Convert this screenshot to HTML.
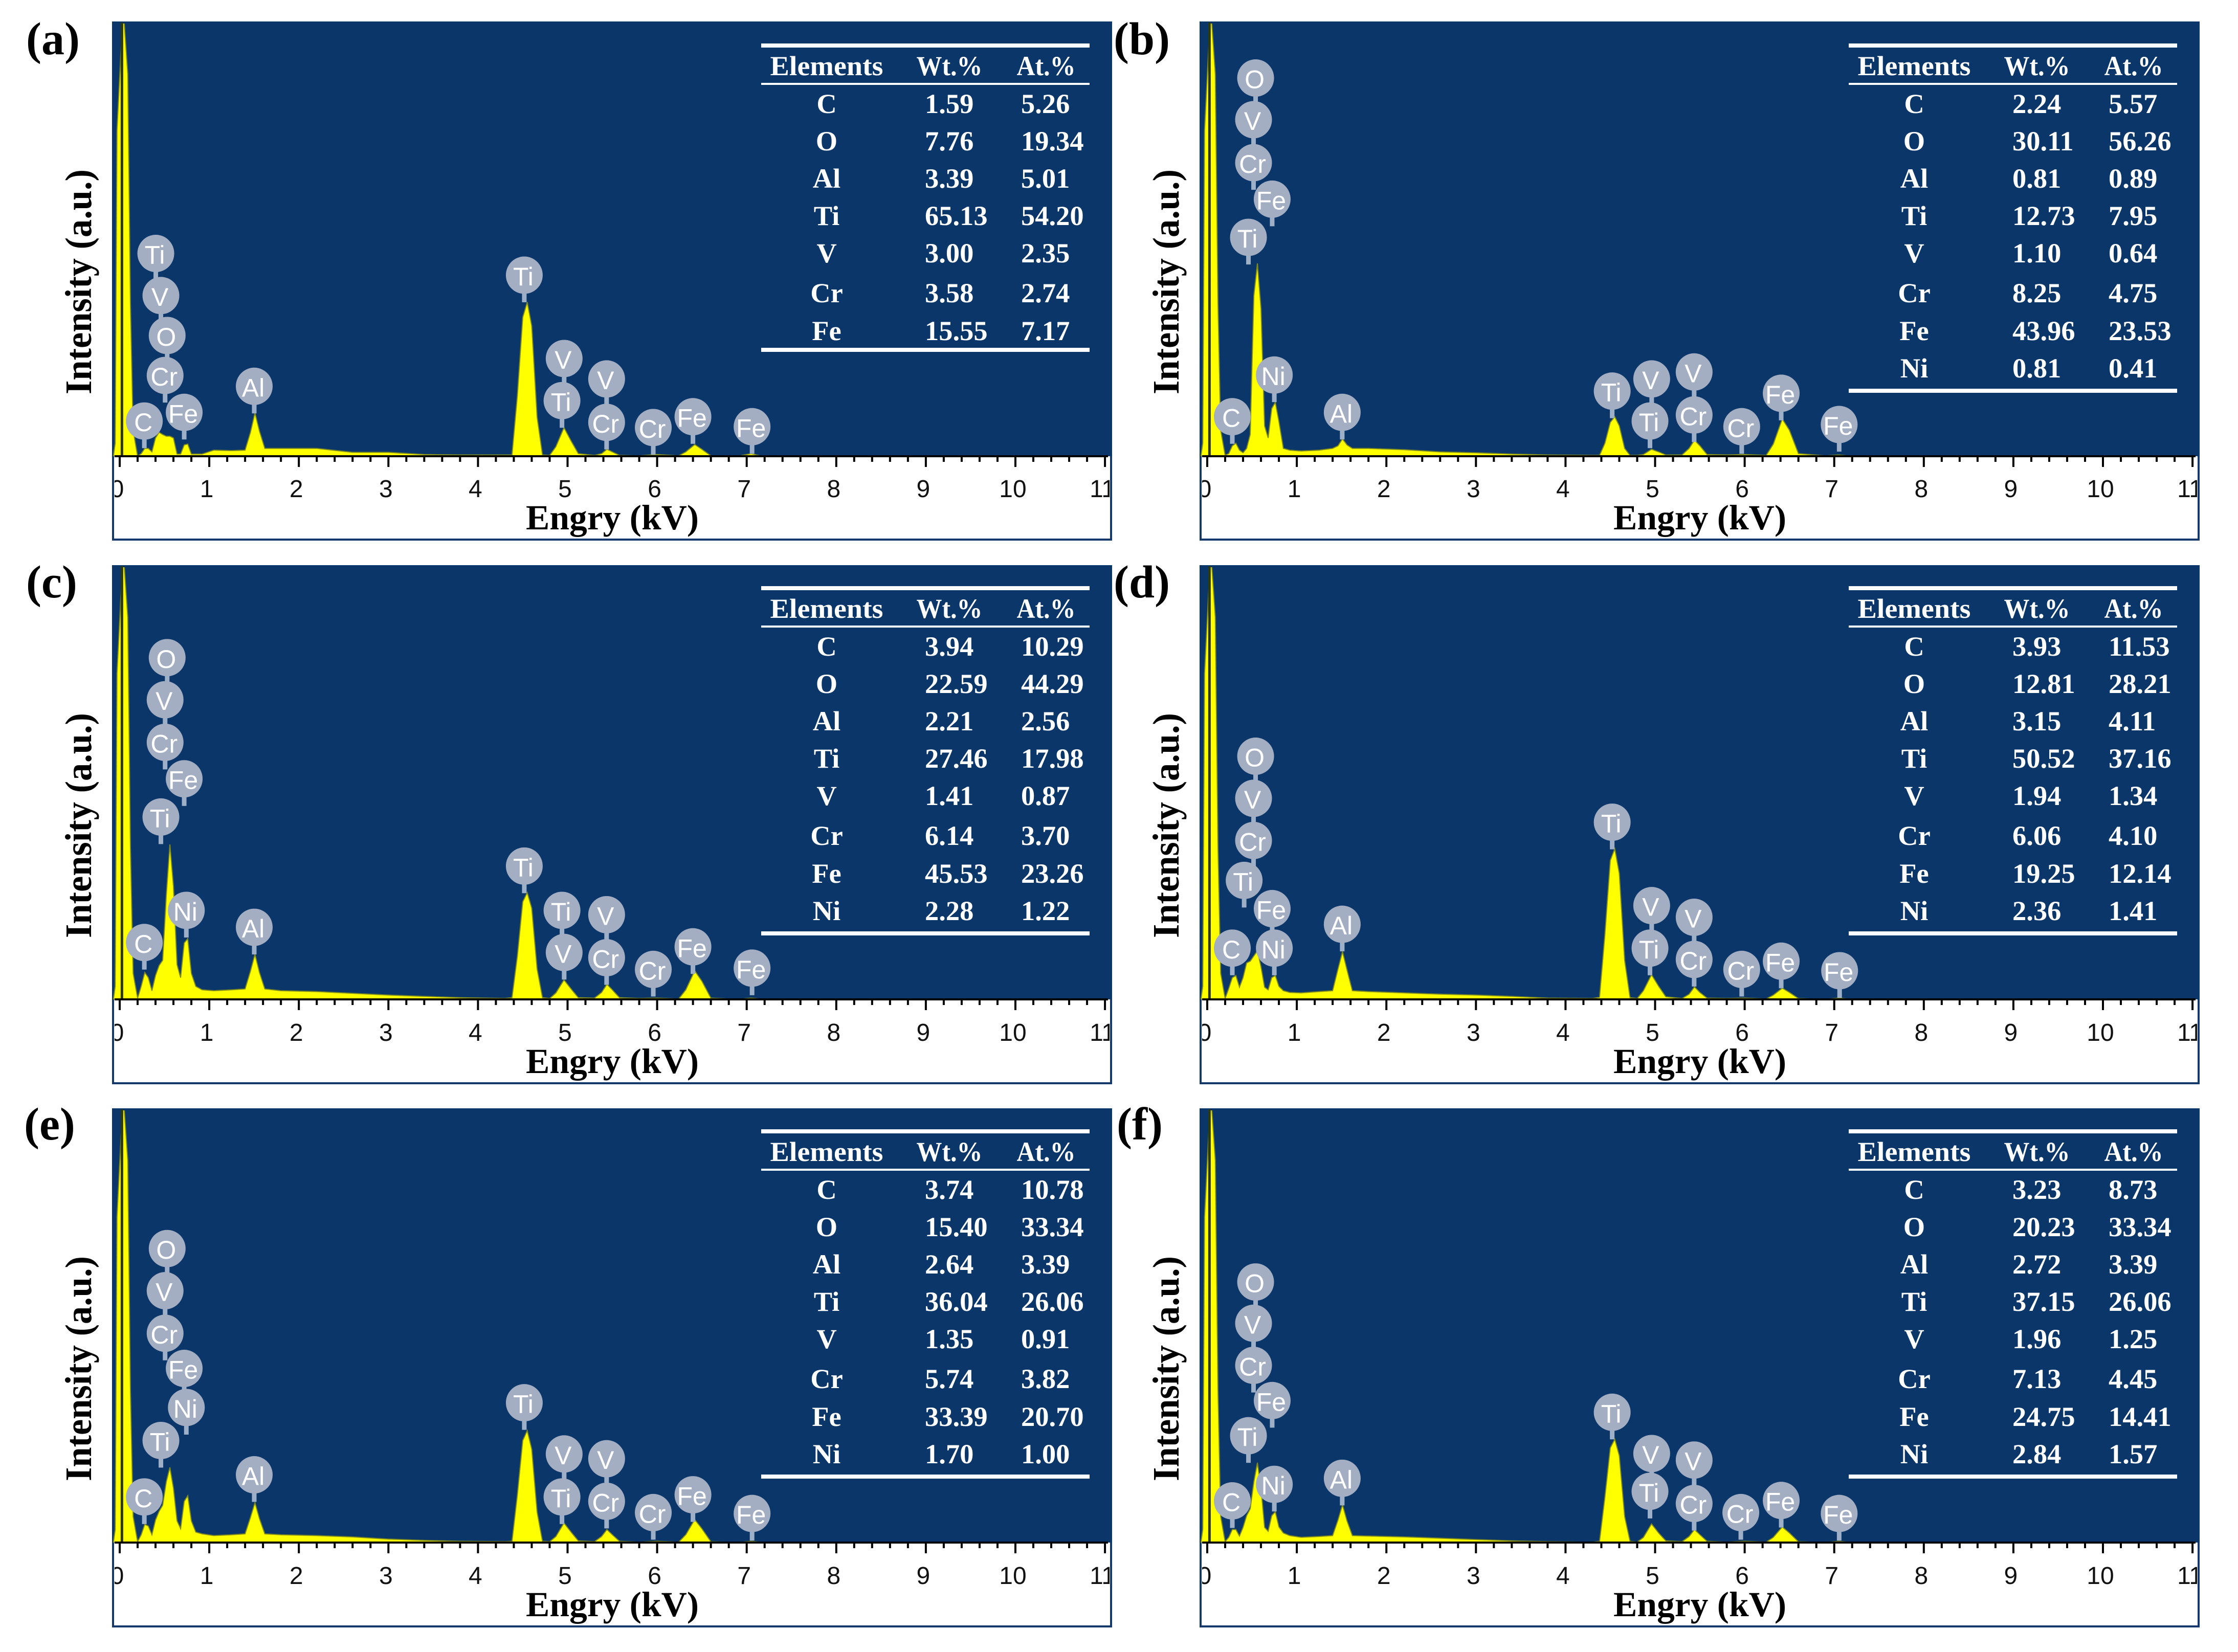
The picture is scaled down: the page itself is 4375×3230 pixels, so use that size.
<!DOCTYPE html>
<html lang="en">
<head>
<meta charset="utf-8">
<title>EDS spectra panels (a)-(f)</title>
<style>
html,body{margin:0;padding:0;background:#fff;}
body{width:4375px;height:3230px;overflow:hidden;}
svg{display:block;}
</style>
</head>
<body>
<svg id="figure" xmlns="http://www.w3.org/2000/svg" width="4375" height="3230" viewBox="0 0 4375 3230"></svg>
<script>
// Shared energy grid (kV) for all spectra
var energyKeV = [-0.07,-0.05,-0.03,0.03,0.05,0.09,0.12,0.15,0.20,0.24,0.28,0.32,0.36,0.40,0.44,0.48,0.52,0.56,0.60,0.64,0.68,0.72,0.76,0.80,0.85,0.92,1.05,1.25,1.40,1.46,1.51,1.56,1.62,1.80,2.20,2.60,3.00,3.40,3.80,4.30,4.38,4.44,4.50,4.55,4.60,4.66,4.72,4.80,4.87,4.96,5.04,5.12,5.30,5.38,5.44,5.50,5.58,5.80,6.00,6.24,6.32,6.42,6.50,6.60,6.90,7.05,7.15,8.00,11.0];

// Intensity read per panel (counts, 1000 = top of plot)
var intensityA = [0,30,750,1000,1000,880,350,60,0,6,18,18,10,42,55,50,46,46,42,5,5,26,28,5,5,5,14,13,14,55,100,58,18,18,18,9,9,4,3,3,3,140,320,355,300,90,3,2,22,66,35,6,2,6,16,10,2,1,4,1,10,27,16,1,0,6,1,0,0];
var intensityB = [0,30,750,1000,1000,880,350,60,2,6,24,30,14,8,18,50,370,444,340,70,42,110,124,80,18,14,12,14,18,24,40,26,18,18,15,10,8,5,3,2,2,30,78,91,70,18,2,2,4,16,10,3,3,18,37,24,4,3,4,2,28,86,60,6,1,3,1,0,0];
var intensityC = [0,30,750,1000,1000,880,350,60,3,30,62,50,20,55,78,90,240,357,260,80,50,130,140,60,30,22,20,22,24,65,104,62,24,20,18,14,10,7,4,2,4,100,225,246,210,70,4,2,15,45,24,4,3,16,35,22,4,2,3,1,22,66,42,3,0,3,1,0,0];
var intensityD = [0,30,750,1000,1000,880,350,60,2,25,50,55,28,50,84,88,100,112,75,28,22,50,55,30,20,16,15,18,20,70,110,68,20,18,15,12,10,7,3,2,5,150,320,347,290,90,4,2,20,57,30,6,2,12,29,16,3,2,3,1,10,26,16,2,0,3,1,0,0];
var intensityE = [0,30,750,1000,1000,880,350,60,2,18,42,38,18,52,72,86,140,173,125,50,32,95,108,50,24,20,16,18,20,58,92,55,20,18,16,13,8,5,3,2,3,110,235,258,215,70,3,2,14,45,24,4,2,14,30,18,3,1,3,1,18,53,32,2,0,3,1,0,0];
var intensityF = [0,30,750,1000,1000,880,350,60,2,12,30,30,15,35,62,78,140,184,125,35,26,62,71,36,22,16,12,14,16,52,87,50,16,15,13,10,7,4,2,1,3,105,218,238,200,60,3,1,12,43,22,4,2,14,30,18,3,1,3,1,12,36,22,2,0,3,1,0,0];

// Peak-label markers: element, energy (kV), height (counts)
var markerElementsA = ['Ti','V','O','Cr','C','Fe','Al','Ti','V','Ti','V','Cr','Cr','Fe','Fe'];
var markerEnergyA = [0.403,0.46,0.53,0.507,0.275,0.72,1.502,4.517,4.962,4.938,5.436,5.436,5.957,6.40,7.06];
var markerHeightA = [467,370,278,186,81,101,161,417,225,128,178,78,66,91,68];
var markerElementsB = ['O','V','Cr','Fe','Ti','Ni','C','Al','Ti','V','Ti','V','Cr','Cr','Fe','Fe'];
var markerEnergyB = [0.54,0.517,0.517,0.725,0.46,0.749,0.28,1.507,4.521,4.962,4.943,5.436,5.436,5.967,6.408,7.055];
var markerHeightB = [871,775,676,592,504,187,91,101,150,178,81,194,95,68,145,73];
var markerElementsC = ['O','V','Cr','Fe','Ti','Ni','C','Al','Ti','Ti','V','V','Cr','Cr','Fe','Fe'];
var markerEnergyC = [0.53,0.507,0.507,0.72,0.46,0.744,0.275,1.502,4.517,4.938,4.962,5.436,5.436,5.957,6.40,7.06];
var markerHeightC = [787,690,592,508,420,205,131,166,307,205,108,195,96,69,121,72];
var markerElementsD = ['O','V','Cr','Ti','Fe','Ni','C','Al','Ti','V','Ti','V','Cr','Cr','Fe','Fe'];
var markerEnergyD = [0.54,0.517,0.517,0.412,0.725,0.749,0.28,1.507,4.521,4.962,4.943,5.436,5.436,5.967,6.408,7.06];
var markerHeightD = [560,463,366,274,209,118,118,173,408,216,118,189,92,69,88,66];
var markerElementsE = ['O','V','Cr','Fe','Ni','Ti','C','Al','Ti','V','Ti','V','Cr','Cr','Fe','Fe'];
var markerEnergyE = [0.53,0.507,0.507,0.72,0.744,0.46,0.275,1.502,4.517,4.962,4.938,5.436,5.436,5.957,6.40,7.06];
var markerHeightE = [677,580,482,401,311,235,105,156,322,204,105,193,95,69,110,67];
var markerElementsF = ['O','V','Cr','Fe','Ti','Ni','C','Al','Ti','V','Ti','V','Cr','Cr','Fe','Fe'];
var markerEnergyF = [0.54,0.517,0.517,0.725,0.46,0.749,0.28,1.507,4.521,4.962,4.943,5.436,5.436,5.957,6.408,7.055];
var markerHeightF = [600,505,408,327,246,134,96,148,300,205,118,190,90,69,97,67];

// Composition tables
var tableElementsA = ['C','O','Al','Ti','V','Cr','Fe'];
var tableWtA = ['1.59','7.76','3.39','65.13','3.00','3.58','15.55'];
var tableAtA = ['5.26','19.34','5.01','54.20','2.35','2.74','7.17'];
var tableElementsB = ['C','O','Al','Ti','V','Cr','Fe','Ni'];
var tableWtB = ['2.24','30.11','0.81','12.73','1.10','8.25','43.96','0.81'];
var tableAtB = ['5.57','56.26','0.89','7.95','0.64','4.75','23.53','0.41'];
var tableElementsC = ['C','O','Al','Ti','V','Cr','Fe','Ni'];
var tableWtC = ['3.94','22.59','2.21','27.46','1.41','6.14','45.53','2.28'];
var tableAtC = ['10.29','44.29','2.56','17.98','0.87','3.70','23.26','1.22'];
var tableElementsD = ['C','O','Al','Ti','V','Cr','Fe','Ni'];
var tableWtD = ['3.93','12.81','3.15','50.52','1.94','6.06','19.25','2.36'];
var tableAtD = ['11.53','28.21','4.11','37.16','1.34','4.10','12.14','1.41'];
var tableElementsE = ['C','O','Al','Ti','V','Cr','Fe','Ni'];
var tableWtE = ['3.74','15.40','2.64','36.04','1.35','5.74','33.39','1.70'];
var tableAtE = ['10.78','33.34','3.39','26.06','0.91','3.82','20.70','1.00'];
var tableElementsF = ['C','O','Al','Ti','V','Cr','Fe','Ni'];
var tableWtF = ['3.23','20.23','2.72','37.15','1.96','7.13','24.75','2.84'];
var tableAtF = ['8.73','33.34','3.39','26.06','1.25','4.45','14.41','1.57'];

// Axis tick labels
var xTickLabels = ['0','1','2','3','4','5','6','7','8','9','10','11'];
var xMinorStep = 0.2;

var NS = 'http://www.w3.org/2000/svg';
var SERIF = '"Liberation Serif", serif';
var SANS = '"Liberation Sans", sans-serif';
var root = document.getElementById('figure');

function make(parent, tag, attrs, txt) {
  var node = document.createElementNS(NS, tag);
  for (var k in attrs) { node.setAttribute(k, attrs[k]); }
  if (txt !== undefined) { node.textContent = txt; }
  parent.appendChild(node);
  return node;
}

function drawPanel(cfg) {
  var L = cfg.left, T = cfg.top, W = 1955, H = 1015, PLOT_H = cfg.plotH, BASE = T + PLOT_H;
  var kvPx = 175.1, zeroX = L + 15, countPx = 0.849;
  function xAxis(e) { return zeroX + kvPx * e; }
  function yAxis(v) { return BASE - v * countPx; }

  var g = make(root, 'g', {});
  
  

  var clipPlot = make(g, 'clipPath', {id: 'plot-clip-' + cfg.id});
  make(clipPlot, 'rect', {x: L, y: T + 4, width: W, height: PLOT_H - 4});
  var clipAxis = make(g, 'clipPath', {id: 'axis-clip-' + cfg.id});
  make(clipAxis, 'rect', {x: L + 5, y: BASE, width: W - 10, height: 166});

  // frame
  var frame = make(g, 'rect', {x: L + 2, y: T + 2, width: W - 4, height: H - 4, fill: '#ffffff', stroke: '#14396a', 'stroke-width': 4});
  
  
  var bg = make(g, 'rect', {x: L, y: T, width: W, height: PLOT_H, fill: '#0a3669'});
  
  

  // spectrum
  var pts = [];
  var count = Math.min(energyKeV.length, cfg.series.length);
  for (var i = 0; i < count; i++) {
    pts.push(xAxis(energyKeV[i]).toFixed(1) + ',' + yAxis(cfg.series[i]).toFixed(1));
  }
  var d = 'M' + xAxis(energyKeV[0]).toFixed(1) + ',' + BASE + ' L' + pts.join(' L') + ' L' + xAxis(energyKeV[count - 1]).toFixed(1) + ',' + BASE + ' Z';
  var spectrum = make(g, 'path', {d: d, fill: '#ffff00', stroke: '#7f8a1e', 'stroke-width': 2, 'clip-path': 'url(#plot-clip-' + cfg.id + ')'});
  
  

  var zeroLine = make(g, 'line', {x1: xAxis(0.025), x2: xAxis(0.025), y1: T + 2, y2: BASE, stroke: '#2b3a10', 'stroke-width': 5});
  
  

  // axis line + ticks
  var axis = make(g, 'line', {x1: L + 5, x2: L + W - 8, y1: BASE, y2: BASE, stroke: '#000000', 'stroke-width': 4});
  
  
  var minorCount = Math.round((xTickLabels.length - 1) / xMinorStep);
  for (var m = 0; m <= minorCount; m++) {
    var ev = m * xMinorStep;
    var isMajor = m % 5 === 0;
    var tick = make(g, 'line', {x1: xAxis(ev), x2: xAxis(ev), y1: BASE, y2: BASE + (isMajor ? 21 : 11), stroke: '#000000', 'stroke-width': 4});
    
    
  }
  var tickGroup = make(g, 'g', {'clip-path': 'url(#axis-clip-' + cfg.id + ')'});
  
  
  for (var t = 0; t < xTickLabels.length; t++) {
    var lab = make(tickGroup, 'text', {x: xAxis(t) - 5, y: T + 930, 'font-family': SANS, 'font-size': 48, 'text-anchor': 'middle', fill: '#111111'}, xTickLabels[t]);
    
    
  }

  // axis titles
  var xTitle = make(g, 'text', {x: L + 809, y: T + 993, 'font-family': SERIF, 'font-size': 69, 'font-weight': 'bold', fill: '#000', textLength: 338, lengthAdjust: 'spacingAndGlyphs'}, 'Engry (kV)');
  
  
  var yx = L - 41, yy = T + 509;
  var yTitle = make(g, 'text', {x: yx, y: yy, transform: 'rotate(-90 ' + yx + ' ' + yy + ')', 'text-anchor': 'middle', 'font-family': SERIF, 'font-size': 73, 'font-weight': 'bold', fill: '#000', textLength: 440, lengthAdjust: 'spacingAndGlyphs'}, 'Intensity (a.u.)');
  
  

  // panel letter
  var letter = make(g, 'text', {x: cfg.labelX, y: cfg.labelY, 'font-family': SERIF, 'font-size': 90, 'font-weight': 'bold', fill: '#000'}, cfg.label);
  
  

  // markers: stems first, then bubbles
  for (var s = 0; s < cfg.mE.length; s++) {
    var sx = xAxis(cfg.mV[s]), sy = yAxis(cfg.mH[s]);
    var stem = make(g, 'line', {x1: sx, x2: sx, y1: sy, y2: sy + 53, stroke: '#9db0c8', 'stroke-width': 9});
    
    
  }
  for (var b = 0; b < cfg.mE.length; b++) {
    var bx = xAxis(cfg.mV[b]), by = yAxis(cfg.mH[b]);
    var bubble = make(g, 'ellipse', {cx: bx, cy: by, rx: 36, ry: 36.5, fill: '#a3aec3'});
    
    
    var bt = make(g, 'text', {x: bx - 2, y: by + 20, 'text-anchor': 'middle', 'font-family': SANS, 'font-size': 50, fill: '#ffffff'}, cfg.mE[b]);
    
    
  }

  // composition table
  var tbl = make(g, 'g', {});
  
  
  var tL = L + 1269, tW = 642, TT = T + cfg.tableShift;
  var ruleTop = make(tbl, 'rect', {x: tL, y: TT + 43, width: tW, height: 8, fill: '#fff'});
  
  
  var ruleMid = make(tbl, 'rect', {x: tL, y: TT + 120, width: tW, height: 4, fill: '#fff'});
  
  
  var ruleBottom = make(tbl, 'rect', {x: tL, y: TT + (cfg.tE.length > 7 ? 718 : 638), width: tW, height: 8, fill: '#fff'});
  
  

  var tf = {'font-family': SERIF, 'font-weight': 'bold', 'font-size': 54.5, fill: '#fff'};
  function tText(x, y, anchor, str, extra) {
    var a = {x: x, y: y, 'text-anchor': anchor};
    for (var k in tf) { a[k] = tf[k]; }
    if (extra) { for (var e in extra) { a[e] = extra[e]; } }
    return make(tbl, 'text', a, str);
  }
  var h1 = tText(L + 1397, TT + 105, 'middle', 'Elements', {textLength: 221, lengthAdjust: 'spacingAndGlyphs'});
  
  
  var h2 = tText(L + 1637, TT + 105, 'middle', 'Wt.%', {textLength: 129, lengthAdjust: 'spacingAndGlyphs'});
  
  
  var h3 = tText(L + 1826, TT + 105, 'middle', 'At.%', {textLength: 115, lengthAdjust: 'spacingAndGlyphs'});
  
  
  var rowOffsets = [179, 252, 325, 398, 471, 549, 623, 696];
  for (var r = 0; r < cfg.tE.length; r++) {
    var ry = TT + rowOffsets[r];
    var c1 = tText(L + 1397, ry, 'middle', cfg.tE[r]);
    
    
    var c2 = tText(L + 1589, ry, 'start', cfg.tW[r]);
    
    
    var c3 = tText(L + 1777, ry, 'start', cfg.tA[r]);
    
    
  }
}

drawPanel({id:'a', left:219,  top:42,   plotH:850, tableShift:0,  label:'(a)', labelX:51,   labelY:106,  series:intensityA, mE:markerElementsA, mV:markerEnergyA, mH:markerHeightA, tE:tableElementsA, tW:tableWtA, tA:tableAtA});
drawPanel({id:'b', left:2345, top:42,   plotH:850, tableShift:0,  label:'(b)', labelX:2177, labelY:106,  series:intensityB, mE:markerElementsB, mV:markerEnergyB, mH:markerHeightB, tE:tableElementsB, tW:tableWtB, tA:tableAtB});
drawPanel({id:'c', left:219,  top:1105, plotH:849, tableShift:-2, label:'(c)', labelX:51,   labelY:1168, series:intensityC, mE:markerElementsC, mV:markerEnergyC, mH:markerHeightC, tE:tableElementsC, tW:tableWtC, tA:tableAtC});
drawPanel({id:'d', left:2345, top:1105, plotH:849, tableShift:-2, label:'(d)', labelX:2177, labelY:1168, series:intensityD, mE:markerElementsD, mV:markerEnergyD, mH:markerHeightD, tE:tableElementsD, tW:tableWtD, tA:tableAtD});
drawPanel({id:'e', left:219,  top:2167, plotH:849, tableShift:-2, label:'(e)', labelX:47,   labelY:2228, series:intensityE, mE:markerElementsE, mV:markerEnergyE, mH:markerHeightE, tE:tableElementsE, tW:tableWtE, tA:tableAtE});
drawPanel({id:'f', left:2345, top:2167, plotH:849, tableShift:-2, label:'(f)', labelX:2183, labelY:2228, series:intensityF, mE:markerElementsF, mV:markerEnergyF, mH:markerHeightF, tE:tableElementsF, tW:tableWtF, tA:tableAtF});
</script>
</body>
</html>
